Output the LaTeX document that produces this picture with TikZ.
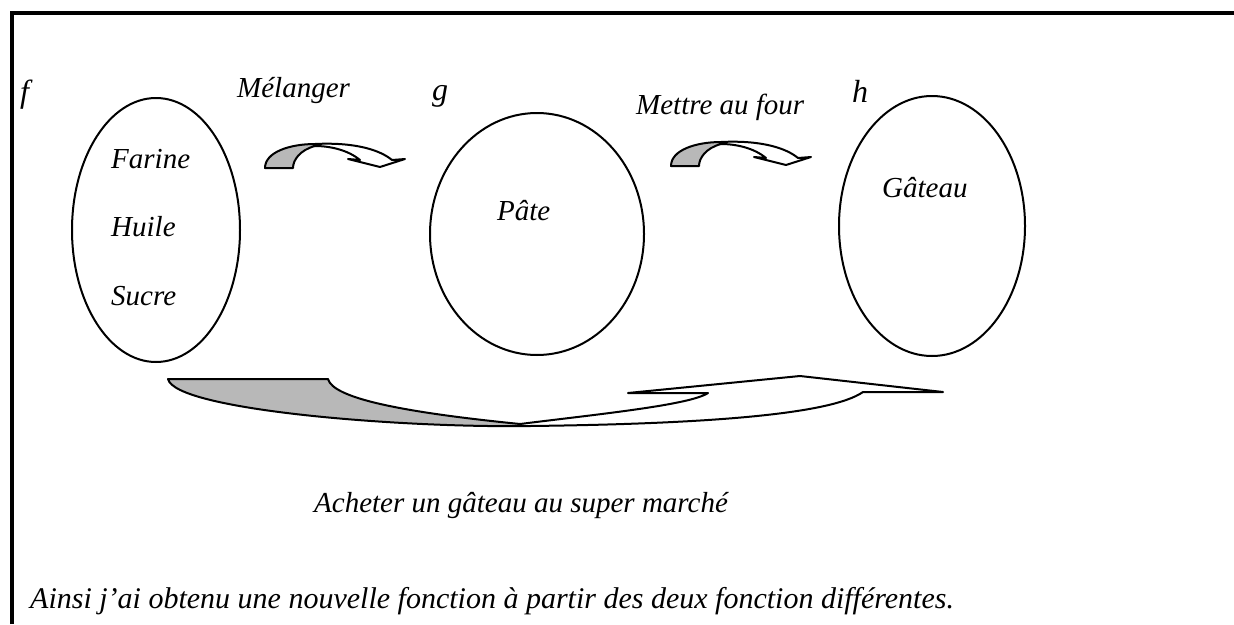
\documentclass[tikz,border=0pt]{standalone}
\usepackage{fontspec}
\setmainfont{Liberation Serif}
\usetikzlibrary{shapes.geometric}
\tikzset{
  set/.style={draw, ellipse, line width=2pt, inner sep=0pt},
  lbl/.style={anchor=base west, inner sep=0pt, font=\itshape\fontsize{29}{33}\selectfont},
  fnlbl/.style={anchor=base west, inner sep=0pt, font=\itshape\fontsize{32}{36}\selectfont},
  ribbon/.style={draw, line width=2pt, line join=round},
  shadefill/.style={fill=black!28},
  framestroke/.style={line width=4pt}
}
\newcommand\smallcurvedarrow{%
  \fill[shadefill] (265,168) .. controls (265,152) and (290,144) .. (315,144)
    -- (315,146) .. controls (300,150) and (293,160) .. (293,168) -- cycle;
  \draw[ribbon] (265,168) .. controls (265,152) and (290,144) .. (315,144)
    .. controls (355,142) and (380,150) .. (392,160) -- (405,159) -- (380,167)
    -- (348,159) -- (360,160) .. controls (348,150) and (330,146) .. (315,146)
    .. controls (300,150) and (293,160) .. (293,168) -- cycle;
}
\begin{document}
\begin{tikzpicture}[x=1pt,y=-1pt]
\useasboundingbox (0,0) rectangle (1234,624);
% frame (top and left edges)
\coordinate (ftl) at (12,13);
\coordinate (ftr) at (1234,13);
\coordinate (fbl) at (12,624);
\draw[framestroke] (fbl) -- (ftl) -- (ftr);
% sets
\node[set, minimum width=168pt, minimum height=264pt] (setf) at (156,230) {};
\node[set, minimum width=214pt, minimum height=242pt] (setg) at (537,234) {};
\node[set, minimum width=186pt, minimum height=260pt] (seth) at (932,226) {};
% labels
\node[fnlbl] (lf) at (20,102) {f};
\node[fnlbl] (lg) at (432,100) {g};
\node[fnlbl] (lh) at (852,102) {h};
\node[lbl] (melanger) at (237,97) {Mélanger};
\node[lbl] (four) at (636,114) {Mettre au four};
\node[lbl] (farine) at (111,168) {Farine};
\node[lbl] (huile) at (111,236) {Huile};
\node[lbl] (sucre) at (111,305) {Sucre};
\node[lbl] (pate) at (497,220) {Pâte};
\node[lbl] (gateau) at (882,197) {Gâteau};
\node[lbl] (acheter) at (314,512) {Acheter un gâteau au super marché};
\node[lbl, font=\itshape\fontsize{30}{34}\selectfont] (ainsi) at (30,608) {Ainsi j’ai obtenu une nouvelle fonction à partir des deux fonction différentes.};
% small arrows
\begin{scope}\smallcurvedarrow\end{scope}
\begin{scope}[shift={(406,-2)}]\smallcurvedarrow\end{scope}
% big arrow
\fill[shadefill] (168,379) -- (328,379) .. controls (333,398) and (400,412) .. (522,424)
  -- (530,426) .. controls (400,428) and (175,410) .. (168,379) -- cycle;
\draw[ribbon] (168,379) -- (328,379) .. controls (333,398) and (400,412) .. (520,424)
  .. controls (600,414) and (690,405) .. (708,393) -- (628,393) -- (800,376)
  -- (943,392) -- (863,392) .. controls (830,415) and (700,424) .. (530,426)
  .. controls (400,428) and (175,410) .. (168,379) -- cycle;
\end{tikzpicture}
\end{document}
